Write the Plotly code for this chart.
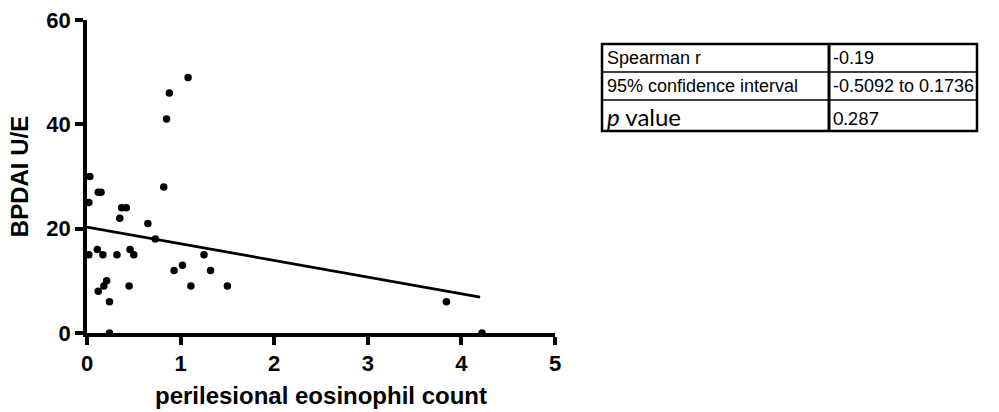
import plotly.graph_objects as go

# ---- data ----
eos_count = [0.03, 0.02, 0.02, 0.11, 0.12, 0.15, 0.17, 0.12, 0.18, 0.21, 0.24, 0.24,
             0.32, 0.35, 0.37, 0.42, 0.45, 0.46, 0.50, 0.65, 0.73, 0.82, 0.85, 0.88,
             1.08, 0.93, 1.02, 1.11, 1.25, 1.32, 1.50, 3.84, 4.22]
bpdai = [30, 25, 15, 16, 27, 27, 15, 8, 9, 10, 6, 0,
         15, 22, 24, 24, 9, 16, 15, 21, 18, 28, 41, 46,
         49, 12, 13, 9, 15, 12, 9, 6, 0]
fit_x = [0.0, 4.2]
fit_y = [20.3, 6.9]

x_ticks = [0, 1, 2, 3, 4, 5]
y_ticks = [0, 20, 40, 60]

table_labels = ["Spearman r", "95% confidence interval", "<i>p</i> value"]
table_values = ["-0.19", "-0.5092 to 0.1736", "0.287"]

# ---- layout geometry (pixels) ----
W, H = 999, 412
ML, MR, MT, MB = 87, 444, 20, 79
PW, PH = W - ML - MR, H - MT - MB


def px(x):
    return (x - ML) / PW


def py(y):
    return (H - MB - y) / PH


fig = go.Figure()
fig.add_trace(go.Scatter(x=fit_x, y=fit_y, mode="lines",
                         line=dict(color="black", width=2.8),
                         cliponaxis=False, hoverinfo="skip"))
fig.add_trace(go.Scatter(x=eos_count, y=bpdai, mode="markers",
                         marker=dict(color="black", size=7.5),
                         cliponaxis=False))

axis_font = dict(family="Liberation Sans, Arial", size=22, color="black")
title_font = dict(family="Liberation Sans, Arial", size=24, color="black")

fig.update_xaxes(range=[0, 5], tickvals=x_ticks,
                 ticktext=[f"<b>{v}</b>" for v in x_ticks],
                 showline=True, linecolor="black", linewidth=3.5,
                 ticks="outside", ticklen=8, tickwidth=3.5, tickcolor="black",
                 showgrid=False, zeroline=False, automargin=False,
                 tickfont=axis_font,
                 title=dict(text="<b>perilesional eosinophil count</b>",
                            font=title_font, standoff=13))
fig.update_yaxes(range=[0, 60], tickvals=y_ticks,
                 ticktext=[f"<b>{v}</b>" for v in y_ticks],
                 showline=True, linecolor="black", linewidth=3.5,
                 ticks="outside", ticklen=8, tickwidth=3.5, tickcolor="black",
                 showgrid=False, zeroline=False, automargin=False,
                 tickfont=axis_font,
                 title=dict(text="<b>BPDAI U/E</b>", font=title_font, standoff=12))

# ---- statistics table ----
tx0, tx1, tdiv = 602, 977, 829
rows = [44, 72, 100, 131]
shapes = []
shapes.append(dict(type="rect", xref="paper", yref="paper",
                   x0=px(tx0), x1=px(tx1), y0=py(rows[-1]), y1=py(rows[0]),
                   line=dict(color="black", width=2.5)))
for r in rows[1:-1]:
    shapes.append(dict(type="line", xref="paper", yref="paper",
                       x0=px(tx0), x1=px(tx1), y0=py(r), y1=py(r),
                       line=dict(color="black", width=1.5)))
shapes.append(dict(type="line", xref="paper", yref="paper",
                   x0=px(tdiv), x1=px(tdiv), y0=py(rows[-1]), y1=py(rows[0]),
                   line=dict(color="black", width=3)))
fig.update_layout(shapes=shapes)

annotations = []
for i, (lab, val) in enumerate(zip(table_labels, table_values)):
    yc = (rows[i] + rows[i + 1]) / 2
    last = i == len(table_labels) - 1
    lab_font = dict(family="Lato, Open Sans" if last else "Liberation Sans, Arial",
                    size=24 if last else 18, color="black")
    val_font = dict(family="Lato, Open Sans" if last else "Liberation Sans, Arial",
                    size=18, color="black")
    annotations.append(dict(x=px(tx0 + 3), y=py(yc + (1 if last else 0)), xref="paper", yref="paper",
                            text=lab, showarrow=False, xanchor="left", yanchor="middle",
                            font=lab_font))
    annotations.append(dict(x=px(tdiv + 2), y=py(yc + (2 if last else 0)), xref="paper", yref="paper",
                            text=val, showarrow=False, xanchor="left", yanchor="middle",
                            font=val_font))
fig.update_layout(annotations=annotations)

fig.update_layout(width=W, height=H, margin=dict(l=ML, r=MR, t=MT, b=MB),
                  plot_bgcolor="white", paper_bgcolor="white",
                  showlegend=False)

fig.write_html("out.html")
